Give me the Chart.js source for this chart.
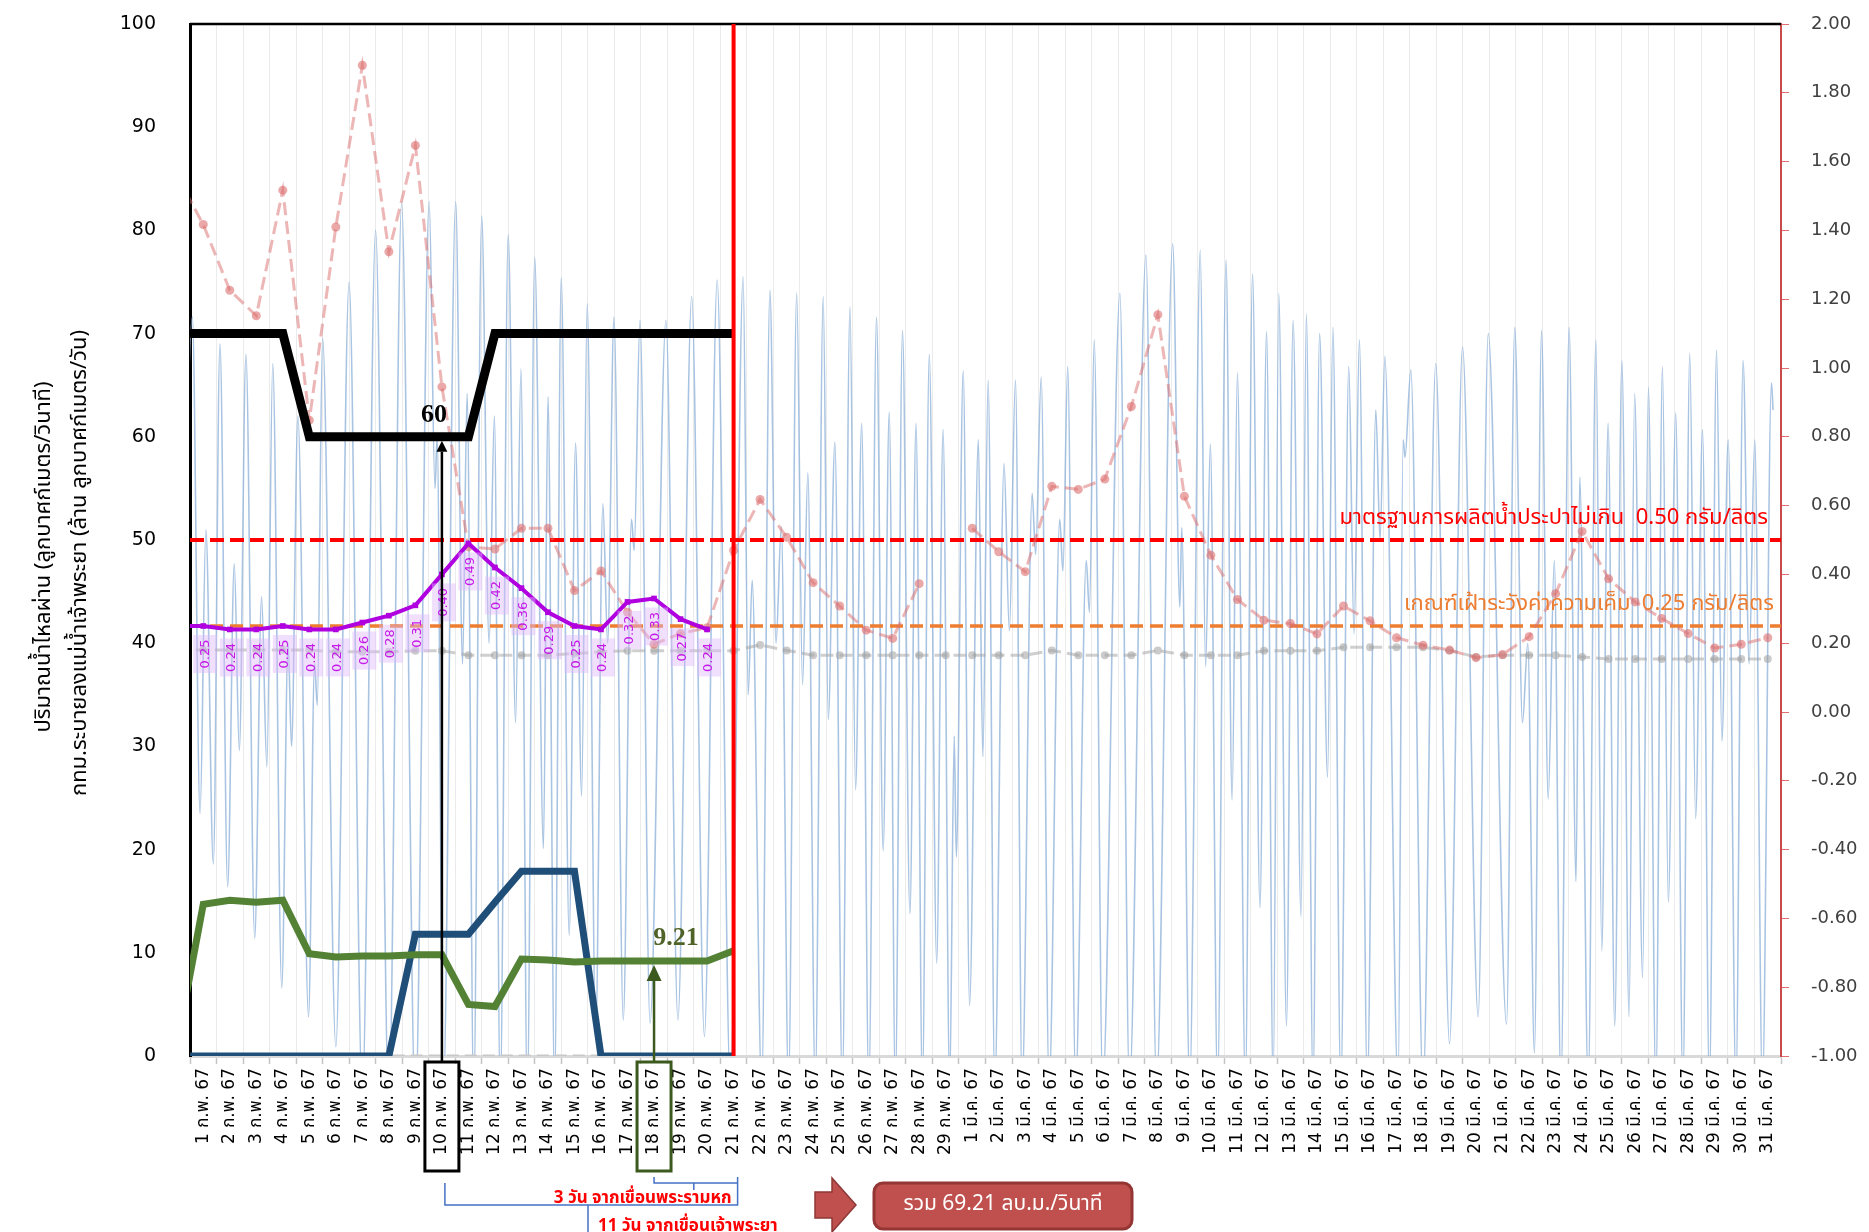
<!DOCTYPE html>
<html>
<head>
<meta charset="utf-8">
<script src="https://cdn.jsdelivr.net/npm/chart.js@4.4.1/dist/chart.umd.min.js"></script>
<style>
  html, body { margin: 0; padding: 0; background: #fff; }
</style>
</head>
<body>
<canvas id="chart" width="1869" height="1232"></canvas>
<script>
// category labels: 1 ก.พ. 67 .. 31 มี.ค. 67
const dayLabels = [];
for (let d = 1; d <= 29; d++) dayLabels.push(d + ' ก.พ. 67');
for (let d = 1; d <= 31; d++) dayLabels.push(d + ' มี.ค. 67');

// daily series; first entry of each is 31 ม.ค. 67 (just left of the axis)
const releaseTarget = [70, 70, 70, 70, 70, 60, 60, 60, 60, 60, 60, 60, 70, 70, 70, 70, 70, 70, 70, 70, 70, 70];
const bkkDrain = [1.0, 14.7, 15.1, 14.9, 15.1, 9.9, 9.6, 9.7, 9.7, 9.8, 9.8, 5.0, 4.8, 9.4, 9.3, 9.1, 9.2, 9.21, 9.21, 9.21, 9.21, 10.2];
const pasakFlow = [0, 0, 0, 0, 0, 0, 0, 0, 0, 11.8, 11.8, 11.8, 14.9, 17.9, 17.9, 17.9, 0, 0, 0, 0, 0, 0];
const zeroLine = [0, 0, 0, 0, 0, 0, 0, 0, 0, 0, 0, 0, 0, 0, 0, 0, 0, 0, 0, 0, 0, 0];
const salinityIntake = [0.25, 0.25, 0.24, 0.24, 0.25, 0.24, 0.24, 0.26, 0.28, 0.31, 0.40, 0.49, 0.42, 0.36, 0.29, 0.25, 0.24, 0.32, 0.33, 0.27, 0.24];
const salinityMax = [1.56, 1.417, 1.226, 1.152, 1.517, 0.848, 1.410, 1.880, 1.338, 1.647,
  0.945, 0.48, 0.474, 0.534, 0.534, 0.353, 0.41, 0.29, 0.197, 0.228,
  0.245, 0.47, 0.618, 0.508, 0.376, 0.308, 0.238, 0.214, 0.373, null,
  0.534, 0.466, 0.408, 0.656, 0.647, 0.677, 0.888, 1.155, 0.627, 0.456,
  0.327, 0.267, 0.257, 0.227, 0.308, 0.265, 0.216, 0.194, 0.18, 0.158,
  0.167, 0.219, 0.344, 0.525, 0.387, 0.32, 0.272, 0.228, 0.186, 0.197, 0.216];
const salinityMin = [0.18, 0.18, 0.18, 0.18, 0.18, 0.18, 0.175, 0.175, 0.175, 0.178,
  0.178, 0.165, 0.165, 0.165, 0.165, 0.17, 0.175, 0.178, 0.178, 0.178,
  0.178, 0.178, 0.195, 0.179, 0.165, 0.165, 0.165, 0.165, 0.165, 0.165,
  0.165, 0.165, 0.165, 0.179, 0.165, 0.165, 0.165, 0.179, 0.165, 0.165,
  0.165, 0.178, 0.178, 0.178, 0.188, 0.188, 0.188, 0.188, 0.179, 0.16,
  0.165, 0.165, 0.165, 0.16, 0.154, 0.154, 0.154, 0.154, 0.154, 0.154, 0.154];

// tidal flow, turning points only (day index, m3/s)
const tideDay = [-1.05, -0.41, -0.12, 0.1, 0.38, 0.63, 0.92, 1.17, 1.36, 1.61, 1.94, 2.2, 2.4, 2.62, 2.96, 3.2, 3.33, 3.57, 3.97, 4.2, 4.3, 4.5,
  5.0, 5.5, 6.0, 6.5, 7.0, 7.48, 8.0, 8.52, 8.74, 8.82, 9.05, 9.52, 9.78, 9.95, 10.2, 10.5, 10.78, 10.98, 11.2, 11.5, 11.78, 11.98,
  12.22, 12.5, 12.83, 13.0, 13.25, 13.5, 13.8, 14.04, 14.27, 14.48, 14.8, 15.07, 15.25, 15.49, 15.84, 16.15, 16.25, 16.47, 16.85,
  17.45, 17.9, 18.42, 18.9, 19.38, 19.88, 20.36, 20.55, 20.7, 21.06, 21.37, 21.6, 21.8, 22.07, 22.38, 22.6, 22.8, 23.08, 23.38,
  23.57, 23.82, 24.1, 24.39, 24.6, 24.83, 25.1, 25.39, 25.64, 25.87, 26.1, 26.37, 26.65, 26.88, 27.12, 27.38, 27.66, 27.9, 28.15,
  28.32, 28.4, 28.66, 28.9, 29.23, 29.4, 29.6, 29.85, 30.2, 30.4, 30.63, 30.88, 31.26, 31.39, 31.6, 31.9, 32.3, 32.42, 32.6, 32.9,
  33.3, 33.42, 33.6, 33.92, 34.57, 34.93, 35.55, 35.95, 36.56, 36.83, 36.9, 37.2, 37.6, 37.8, 37.98, 38.25, 38.57, 38.8, 39.0,
  39.3, 39.57, 39.85, 40.1, 40.35, 40.56, 40.85, 41.1, 41.4, 41.6, 41.85, 42.1, 42.4, 42.6, 42.9, 43.2, 43.4, 43.6, 43.9, 44.22,
  44.38, 44.56, 45.06, 45.25, 45.32, 45.54, 46.0, 46.48, 47.0, 47.49, 48.08, 48.46, 49.15, 49.46, 49.75, 49.95, 50.2, 50.47, 50.72,
  50.95, 51.2, 51.51, 51.77, 51.91, 52.23, 52.52, 52.74, 52.98, 53.23, 53.5, 53.77, 53.98, 54.28, 54.5, 54.78, 55.03, 55.25, 55.53,
  55.8, 56.06, 56.28, 56.54, 56.8, 57.07, 57.27, 57.51, 57.8, 58.07, 58.3, 58.51, 58.8, 59.14, 59.2];
const tideFlow = [-4, 71.6, 23.5, 51, 18.6, 69.0, 16.4, 47.7, 29.6, 68.0, 11.4, 44.5, 28, 67.1, 6.6, 40, 30, 62, 3.8, 38, 34, 69.6,
  0.9, 75.0, -4, 80.0, -5, 82.6, -5, 82.8, 55, 60, -4, 82.8, 38, 64.2, -4, 81.4, 40, 62, -4, 79.6, 32.3, 66.6,
  -4, 77.4, 20.1, 63.9, -3, 75.4, 11.7, 59.4, 25.2, 72.9, 2, 53.5, 40, 71.6, 3.5, 52, 49, 71.3, 3.2,
  71.3, 3.5, 73.6, 1.9, 75.2, -3, 75.5, 35, 46.1, -3, 74.2, 40, 51.3, -3, 73.9, 36, 56.5, -3, 73.6,
  32.6, 59.5, -3, 72.6, 25.8, 61.3, -3, 71.6, 19.9, 62.4, -3, 70.3, 13.8, 61.3, -3, 68.0, 9.0, 60.7, -3,
  31, 19.3, 66.4, 4.9, 59.7, 29.0, 65.5, -3, 57.4, 41.2, 65.5, -3, 54.5, 48.6, 65.8, -3, 52, 47, 66.8, -3,
  48, 43, 69.4, -3, 73.9, -3, 77.6, -3, 78.7, 43.5, 51.2, -3, 78.1, 37.7, 59.3, -3, 77.1, 24.8, 66.2,
  -3, 75.8, 14.4, 70.2, -3, 73.9, 2.9, 71.3, 13.5, 71.9, -3, 70.0, 27.0, 70.6, -3, 66.8, 40.9, 69.4, -3, 62.6,
  50, 67.8, -3, 59.7, 58, 66.5, -3, 67.1, 1.2, 68.7, 3.8, 70.0, 3.1, 70.6, 32.3, 40, 0.3, 70.3, 24.9,
  48, -3, 70.6, 16.9, 56.1, -3, 69.4, 10.2, 61.3, 2.9, 67.4, 3.8, 64.2, 7.6, 64.8, -3, 66.8, 14.9, 62.3,
  -3, 68.1, 23, 60.7, -3, 68.4, 30.5, 59.7, -3, 67.4, 38, 59.7, -3, 65.2, 62.6];

// reference levels (g/l) and marked days (index into dayLabels)
const limitStandard = 0.50;
const limitWatch = 0.25;
const cutoffDay = 20;
const markDayPhraram = 9;
const markDayDrain = 17;
const dayRange = [-0.5, 59.5];

const daily = (arr) => arr.map((v, i) => ({ x: i - 1, y: v }));
const thai = "'Noto Sans Thai', 'Tahoma', 'DejaVu Sans', sans-serif";

const overlay = {
  id: 'overlay',
  afterDatasetsDraw(chart) {
    const { ctx, chartArea: a, scales } = chart;
    const xd = scales.xd, yl = scales.y, yr = scales.y2;
    ctx.save();
    // top frame
    ctx.strokeStyle = '#000'; ctx.lineWidth = 2.5;
    ctx.beginPath(); ctx.moveTo(a.left, a.top); ctx.lineTo(a.right, a.top); ctx.stroke();
    // red cut-off line
    const xr = xd.getPixelForValue(cutoffDay);
    ctx.strokeStyle = '#ff0000'; ctx.lineWidth = 4;
    ctx.beginPath(); ctx.moveTo(xr, a.top); ctx.lineTo(xr, a.bottom); ctx.stroke();

    // threshold captions
    ctx.font = '22px ' + thai; ctx.textAlign = 'right'; ctx.textBaseline = 'middle';
    ctx.fillStyle = '#ff0000';
    ctx.fillText('มาตรฐานการผลิตน้ำประปาไม่เกิน  0.50 กรัม/ลิตร', 1768, yr.getPixelForValue(limitStandard) - 20, 434);
    ctx.fillStyle = '#ed7d31';
    ctx.fillText('เกณฑ์เฝ้าระวังค่าความเค็ม  0.25 กรัม/ลิตร', 1774, yr.getPixelForValue(limitWatch) - 20, 370);

    // intake salinity value labels
    ctx.font = '13px "DejaVu Sans", sans-serif';
    for (let i = 1; i < salinityIntake.length; i++) {
      const px = xd.getPixelForValue(i - 1) + 2;
      const py = yr.getPixelForValue(salinityIntake[i]) + 28;
      const txt = salinityIntake[i].toFixed(2);
      ctx.save();
      ctx.translate(px, py); ctx.rotate(-Math.PI / 2);
      ctx.fillStyle = 'rgba(222,185,250,0.45)';
      ctx.fillRect(-19, -12, 38, 24);
      ctx.fillStyle = '#c61be8'; ctx.textAlign = 'center'; ctx.textBaseline = 'middle';
      ctx.fillText(txt, 0, 0);
      ctx.restore();
    }

    // value callouts
    const x60 = xd.getPixelForValue(markDayPhraram);
    const y60 = yl.getPixelForValue(releaseTarget[markDayPhraram + 1]);
    const x921 = xd.getPixelForValue(markDayDrain);
    const y921 = yl.getPixelForValue(bkkDrain[markDayDrain + 1]);
    ctx.font = 'bold 26px "Liberation Serif", serif'; ctx.textAlign = 'center'; ctx.textBaseline = 'middle';
    ctx.fillStyle = '#000'; ctx.fillText(String(releaseTarget[markDayPhraram + 1]), x60 - 8, y60 - 22);
    ctx.fillStyle = '#4f6228'; ctx.fillText(bkkDrain[markDayDrain + 1].toFixed(2), x921 + 22, y921 - 23);

    const arrow = (x, y0, y1, color, lw, hw, hh) => {
      ctx.strokeStyle = color; ctx.fillStyle = color; ctx.lineWidth = lw;
      ctx.beginPath(); ctx.moveTo(x, y0); ctx.lineTo(x, y1 + hh); ctx.stroke();
      ctx.beginPath(); ctx.moveTo(x, y1); ctx.lineTo(x - hw / 2, y1 + hh); ctx.lineTo(x + hw / 2, y1 + hh); ctx.closePath(); ctx.fill();
    };
    arrow(x60, 1062, y60 + 4, '#000', 2.5, 11, 11);
    arrow(x921, 1062, y921 + 4, '#3d5a1e', 2.5, 15, 16);
    ctx.restore();
  },
  afterDraw(chart) {
    const { ctx, scales } = chart;
    const xd = scales.xd;
    ctx.save();
    // y axis title (two lines)
    ctx.fillStyle = '#000'; ctx.textAlign = 'center'; ctx.textBaseline = 'middle';
    ctx.font = '22px ' + thai;
    ctx.save(); ctx.translate(46, 557); ctx.rotate(-Math.PI / 2);
    ctx.fillText('ปริมาณน้ำไหลผ่าน (ลูกบาศก์เมตร/วินาที)', 0, 0, 423);
    ctx.restore();
    ctx.save(); ctx.translate(82, 563); ctx.rotate(-Math.PI / 2);
    ctx.fillText('กทม.ระบายลงแม่น้ำเจ้าพระยา (ล้าน ลูกบาศก์เมตร/วัน)', 0, 0, 566);
    ctx.restore();

    // boxes round the marked tick labels
    const xa = xd.getPixelForValue(markDayPhraram);
    const xb = xd.getPixelForValue(markDayDrain);
    const xc = xd.getPixelForValue(cutoffDay);
    ctx.lineWidth = 3;
    ctx.strokeStyle = '#000'; ctx.strokeRect(xa - 17, 1062, 34, 109);
    ctx.strokeStyle = '#3d5a1e'; ctx.strokeRect(xb - 17, 1062, 34, 109);

    // brackets
    ctx.strokeStyle = '#4472c4'; ctx.lineWidth = 1.5;
    ctx.beginPath();
    ctx.moveTo(xb, 1177); ctx.lineTo(xb, 1183); ctx.lineTo(xc + 4, 1183);
    ctx.moveTo((xb + xc) / 2, 1183); ctx.lineTo((xb + xc) / 2, 1190);
    ctx.moveTo(xa + 3, 1183); ctx.lineTo(xa + 3, 1205); ctx.lineTo(xc + 4, 1205); ctx.lineTo(xc + 4, 1177);
    ctx.moveTo(588, 1205); ctx.lineTo(588, 1232);
    ctx.stroke();

    ctx.fillStyle = '#ff0000'; ctx.font = 'bold 17px ' + thai;
    ctx.textAlign = 'right'; ctx.textBaseline = 'middle';
    ctx.fillText('3 วัน จากเขื่อนพระรามหก', xc - 2, 1200, 192);
    ctx.textAlign = 'left'; ctx.textBaseline = 'top';
    ctx.fillText('11 วัน จากเขื่อนเจ้าพระยา', 598, 1219, 196);

    // block arrow
    ctx.fillStyle = '#c0504d'; ctx.strokeStyle = '#8c3836'; ctx.lineWidth = 1.5;
    ctx.beginPath();
    ctx.moveTo(815, 1192); ctx.lineTo(832, 1192); ctx.lineTo(832, 1178); ctx.lineTo(856, 1205);
    ctx.lineTo(832, 1232); ctx.lineTo(832, 1218); ctx.lineTo(815, 1218); ctx.closePath();
    ctx.fill(); ctx.stroke();

    // total box
    ctx.beginPath();
    ctx.roundRect(874, 1183, 258, 46, 9);
    ctx.fillStyle = '#c0504d'; ctx.fill();
    ctx.lineWidth = 3; ctx.strokeStyle = '#943634'; ctx.stroke();
    ctx.fillStyle = '#fff'; ctx.font = '21px ' + thai; ctx.textAlign = 'center'; ctx.textBaseline = 'middle';
    ctx.fillText('รวม 69.21 ลบ.ม./วินาที', 1003, 1206, 220);
    ctx.restore();
  }
};

const dashed = { borderDash: [13, 6] };

new Chart(document.getElementById('chart'), {
  type: 'line',
  data: {
    labels: dayLabels,
    datasets: [
      { data: tideDay.map((t, i) => ({ x: t, y: tideFlow[i] })), yAxisID: 'y', xAxisID: 'xd',
        borderColor: 'rgba(140,176,216,0.75)', borderWidth: 1.6, pointRadius: 0, cubicInterpolationMode: 'monotone', order: 10 },
      { data: dayRange.map((x) => ({ x, y: limitStandard })), yAxisID: 'y2', xAxisID: 'xd',
        borderColor: '#ff0000', borderWidth: 4, borderDash: [14, 6], pointRadius: 0, order: 9 },
      { data: dayRange.map((x) => ({ x, y: limitWatch })), yAxisID: 'y2', xAxisID: 'xd',
        borderColor: '#ed7d31', borderWidth: 3.5, borderDash: [13, 7], pointRadius: 0, order: 9 },
      { data: daily(salinityMin), yAxisID: 'y2', xAxisID: 'xd', ...dashed,
        borderColor: 'rgba(160,160,160,0.5)', borderWidth: 3, pointRadius: 4,
        pointBackgroundColor: 'rgba(160,160,160,0.55)', pointBorderWidth: 0, order: 8 },
      { data: daily(salinityMax), yAxisID: 'y2', xAxisID: 'xd', ...dashed,
        borderColor: 'rgba(220,110,110,0.5)', borderWidth: 3, pointRadius: 4.5,
        pointBackgroundColor: 'rgba(220,110,110,0.6)', pointBorderWidth: 0, order: 7 },
      { data: daily(zeroLine), yAxisID: 'y', xAxisID: 'xd', borderDash: [12, 6],
        borderColor: '#c8c8c8', borderWidth: 3, pointRadius: 0, order: 6 },
      { data: daily(pasakFlow), yAxisID: 'y', xAxisID: 'xd',
        borderColor: '#1f4e79', borderWidth: 7, pointRadius: 0, order: 5 },
      { data: daily(bkkDrain), yAxisID: 'y', xAxisID: 'xd',
        borderColor: '#548235', borderWidth: 7, pointRadius: 0, order: 4 },
      { data: daily(releaseTarget), yAxisID: 'y', xAxisID: 'xd',
        borderColor: '#000', borderWidth: 9, pointRadius: 0, order: 3 },
      { data: daily(salinityIntake), yAxisID: 'y2', xAxisID: 'xd',
        borderColor: '#b000e0', borderWidth: 4, pointStyle: 'rect', pointRadius: 4,
        pointBackgroundColor: '#b000e0', pointBorderWidth: 0, order: 1 }
    ]
  },
  options: {
    responsive: false,
    animation: false,
    devicePixelRatio: 1,
    layout: { padding: { top: 24, left: 0, right: 0, bottom: 0 } },
    plugins: { legend: { display: false }, tooltip: { enabled: false } },
    scales: {
      x: {
        type: 'category', labels: dayLabels, offset: true,
        grid: { offset: true, color: '#ebebeb', lineWidth: 1, tickLength: 8, tickColor: '#c4c4c4', tickWidth: 1.5 },
        border: { color: '#d9d9d9', width: 3 },
        ticks: { autoSkip: false, maxRotation: 90, minRotation: 90, padding: 4, color: '#000',
          font: { family: "'DejaVu Sans', 'Noto Sans Thai', sans-serif", size: 17 } },
        afterFit(s) { s.height = 176; s.paddingLeft = 0; s.paddingRight = 0; }
      },
      xd: { type: 'linear', min: dayRange[0], max: dayRange[1], display: false },
      y: {
        position: 'left', min: 0, max: 100,
        grid: { display: false, drawTicks: false },
        border: { color: '#000', width: 3 },
        ticks: { stepSize: 10, padding: 34, color: '#000', font: { family: 'DejaVu Sans', size: 19 } },
        afterFit(s) { s.width = 190; s.paddingTop = 0; s.paddingBottom = 0; }
      },
      y2: {
        position: 'right', min: -1, max: 2,
        grid: { drawOnChartArea: false, drawTicks: true, tickLength: 8, color: '#e07070' },
        border: { color: '#c84a4a', width: 2 },
        ticks: { stepSize: 0.2, padding: 22, color: '#404040', font: { family: 'DejaVu Sans', size: 18 },
          callback: (v) => v.toFixed(2) },
        afterFit(s) { s.width = 88; s.paddingTop = 0; s.paddingBottom = 0; }
      }
    }
  },
  plugins: [overlay]
});
</script>
</body>
</html>
